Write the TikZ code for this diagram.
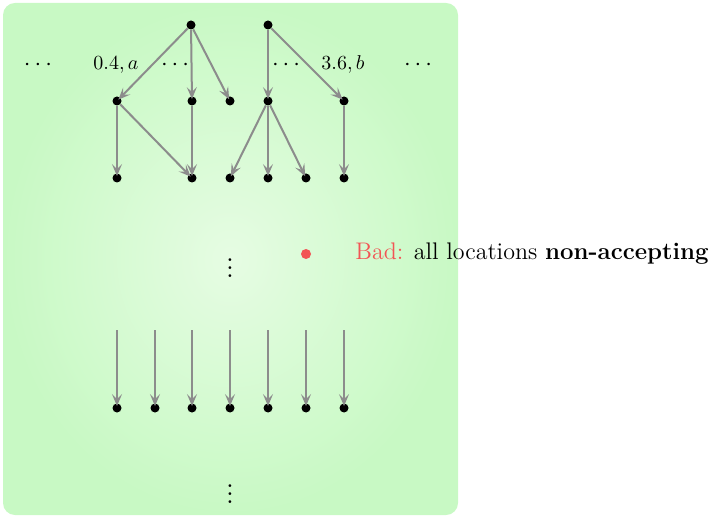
\documentclass[tikz,border=0pt]{standalone}
\usepackage{xcolor}
\usepackage{tikz}
\usetikzlibrary{arrows.meta, positioning}

\definecolor{bgout}{HTML}{C8F9C4}
\definecolor{bgin}{HTML}{E6FCE3}
\definecolor{badred}{HTML}{F25555}

\begin{document}
\begin{tikzpicture}[
      x=0.5pt, y=-0.5pt,
      st/.style={circle, fill=black, inner sep=0pt, minimum size=4.5pt},
      a/.style={-{Stealth[length=6pt, width=5pt, inset=2.5pt]}, line width=1pt, draw=gray!90, shorten >=-1.5pt},
      lbl/.style={font=\normalsize, inner sep=1pt},
      hd/.style={font=\large, inner sep=1pt}
    ]
    \useasboundingbox (0,0) rectangle (715,517);

    % ---- background panel ----
    \shade[rounded corners=6pt, inner color=bgin, outer color=bgout]
      (3,3) rectangle (458,515);

    % ---- top part of the tree ----
    \node[st] (r1) at (191,25) {};
    \node[st] (r2) at (268,25) {};

    \node[st] (m1) at (117,101) {};
    \node[st] (m3) at (192,101) {};
    \node[st] (m4) at (230,101) {};
    \node[st] (m5) at (268,101) {};
    \node[st] (m7) at (344,101) {};

    \node[st] (b1) at (117,178) {};
    \node[st] (b3) at (192,178) {};
    \node[st] (b4) at (230,178) {};
    \node[st] (b5) at (268,178) {};
    \node[st] (b6) at (306,178) {};
    \node[st] (b7) at (344,178) {};

    % row of labels between the first two levels
    \node[hd]  (d1) at (38,65)  {$\cdots$};
    \node[lbl] (la) at (116,65) {$0.4, a$};
    \node[hd]  (d2) at (175,65) {$\cdots$};
    \node[hd]  (d3) at (286,65) {$\cdots$};
    \node[lbl] (lb) at (343,65) {$3.6, b$};
    \node[hd]  (d4) at (418,65) {$\cdots$};

    \draw[a] (r1) -- (m1);
    \draw[a] (r1) -- (m3);
    \draw[a] (r1) -- (m4);
    \draw[a] (r2) -- (m5);
    \draw[a] (r2) -- (m7);

    \draw[a] (m1) -- (b1);
    \draw[a] (m1) -- (b3);
    \draw[a] (m3) -- (b3);
    \draw[a] (m5) -- (b4);
    \draw[a] (m5) -- (b5);
    \draw[a] (m5) -- (b6);
    \draw[a] (m7) -- (b7);

    % ---- middle: gap and the bad case ----
    \node[lbl, font=\Large] (v1) at (230,262) {$\vdots$};
    \node[circle, fill=badred, inner sep=0pt, minimum size=5pt] (bad) at (306,254) {};
    \node[lbl, anchor=west, font=\large] (badtxt) at (353,254)
      {\textcolor{badred}{Bad:} all locations \textbf{non-accepting}};

    % ---- lower level: one step for each location ----
    \foreach \i/\x in {1/117, 2/155, 3/192, 4/230, 5/268, 6/306, 7/344} {
      \coordinate (t\i) at (\x,330);
      \node[st] (e\i) at (\x,408) {};
      \draw[a] (t\i) -- (e\i);
    }

    \node[lbl, font=\Large] (v2) at (230,488) {$\vdots$};

    \end{tikzpicture}
\end{document}
